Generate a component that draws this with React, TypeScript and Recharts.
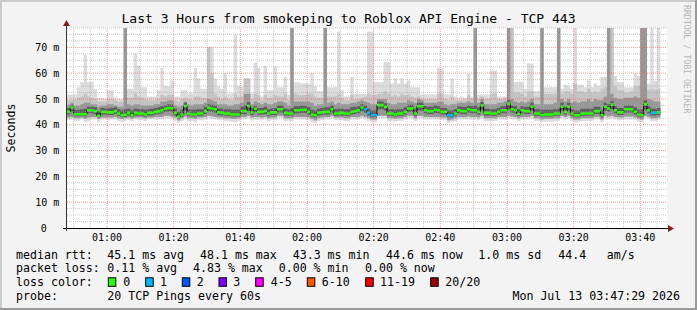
import React from 'react';
import { ComposedChart, Area, Line, XAxis, YAxis, ReferenceLine, CartesianGrid } from 'recharts';

// ---- data (1-minute bins starting 00:48) ----
const startMinute = 48;

const med = [
45.0,46.7,44.1,44.1,44.1,44.1,45.6,45.6,45.3,43.4,
45.0,45.0,44.8,44.8,45.3,44.4,43.7,43.9,44.6,43.7,
44.6,44.4,44.4,44.0,44.6,44.6,45.0,45.2,45.6,46.2,
46.5,46.4,44.6,43.1,44.0,47.3,44.4,44.0,44.0,44.4,
44.4,45.3,46.6,46.3,46.0,44.8,44.6,44.4,44.4,44.0,
44.0,44.0,45.3,45.3,47.3,44.8,46.2,45.0,45.0,45.3,
44.4,44.8,44.8,46.0,46.0,44.6,44.4,44.4,45.6,45.6,
45.8,45.8,45.0,44.0,43.7,44.6,44.8,45.0,45.0,46.0,
44.4,44.4,44.6,44.4,44.4,45.0,45.3,45.6,46.7,46.0,
44.6,43.7,43.7,47.6,47.6,46.9,44.4,44.4,44.0,44.4,
44.4,45.0,46.3,46.3,44.4,47.2,47.2,45.6,45.3,45.3,
45.8,45.6,45.0,45.0,43.7,43.7,44.4,45.6,45.3,45.3,
46.0,45.6,45.6,45.0,47.5,44.6,44.6,44.4,44.4,45.0,
45.6,45.6,48.2,46.0,45.6,44.2,45.6,45.3,45.3,47.0,
44.4,44.4,43.7,44.0,44.0,44.0,44.4,44.4,47.0,45.0,
47.0,44.4,43.7,43.7,44.4,44.4,44.4,44.4,45.3,45.3,
43.7,47.0,46.3,47.8,45.6,44.8,44.8,46.0,46.0,46.0,
45.0,44.0,43.7,48.0,45.6,44.6,44.6,44.8];

const hi = [
51.7,51.7,51.7,54.5,56.6,67.0,56.6,56.6,54.0,50.5,
50.5,50.0,53.4,53.4,50.5,50.0,50.0,77.5,54.0,54.0,
67.6,63.0,54.5,54.5,51.0,51.0,51.0,53.5,62.0,55.0,
55.0,57.2,51.0,51.0,53.4,53.4,52.1,52.1,62.0,58.0,
54.0,54.0,70.0,70.0,57.9,55.0,54.0,60.0,52.1,52.1,
75.0,55.0,55.0,58.0,58.0,52.1,64.0,62.0,51.0,63.0,
53.4,53.4,62.5,54.5,54.5,58.5,51.7,77.5,56.5,56.5,
56.0,56.0,56.0,60.0,55.0,53.0,53.0,77.5,54.5,54.5,
54.5,76.0,53.5,51.0,51.0,58.6,52.0,52.0,52.0,52.0,
76.0,76.0,56.6,56.6,56.6,64.3,64.3,56.0,58.0,56.0,
58.0,56.0,57.2,54.5,54.5,54.5,51.7,51.7,51.7,51.7,
51.7,61.9,61.9,52.1,51.7,58.0,51.0,50.5,51.0,50.5,
59.8,51.0,77.5,51.7,51.7,51.7,51.7,61.0,61.0,51.0,
51.0,51.0,77.5,77.5,56.6,56.6,56.6,54.0,63.7,63.7,
53.0,53.0,77.5,54.5,54.5,54.5,54.5,77.5,54.0,55.5,
55.0,54.0,77.5,55.5,55.5,54.5,57.2,54.5,56.0,55.0,
58.6,58.6,77.5,77.5,59.0,56.6,56.6,54.5,54.5,54.5,
60.0,59.0,77.5,77.5,56.0,77.5,57.0,77.5];

const h2 = [
49.5,49.5,49.8,50.5,51.0,52.0,51.0,50.5,50.0,49.0,
49.0,49.0,50.0,50.0,49.5,49.0,49.0,60.0,50.5,50.5,
52.0,51.0,50.5,50.0,49.5,49.5,49.5,50.0,51.5,51.0,
51.5,51.5,49.5,49.0,50.0,50.5,50.0,49.5,51.0,51.0,
50.5,50.5,70.0,60.0,52.0,51.0,50.0,51.0,50.0,49.5,
52.0,51.0,51.0,57.9,57.9,50.0,52.0,51.5,49.5,51.5,
50.5,50.5,51.5,51.0,51.0,52.0,49.5,77.5,52.0,51.5,
51.5,51.5,52.0,52.0,51.0,50.5,50.5,77.5,51.0,51.0,
51.0,52.0,50.5,49.5,49.5,51.5,50.0,50.0,50.5,51.0,
52.0,51.5,51.5,52.0,52.0,53.0,52.0,51.0,51.5,51.0,
52.0,51.5,52.0,51.0,50.5,51.0,50.0,50.0,50.0,50.0,
50.0,52.0,52.0,50.0,49.5,51.0,49.5,49.5,49.5,49.5,
51.5,50.0,77.5,50.0,51.0,50.0,50.0,52.0,52.0,50.0,
50.0,50.5,77.5,77.5,52.5,52.5,52.0,51.0,53.0,53.0,
51.0,51.0,77.5,52.0,52.0,52.0,52.0,77.5,52.0,53.0,
53.0,52.0,56.0,53.0,53.0,52.5,54.0,52.5,53.0,52.5,
54.0,54.5,77.5,77.5,55.0,53.5,53.5,52.5,52.5,53.0,
55.0,55.0,77.5,77.5,53.5,54.0,53.5,54.0];

const h3 = [
47.8,48.5,47.5,47.5,48.0,48.5,48.5,48.0,48.0,47.0,
47.5,47.5,48.0,48.0,47.5,47.0,47.0,77.5,48.0,47.5,
48.0,48.0,47.5,47.5,47.5,47.5,48.0,48.0,49.0,49.0,
49.5,49.5,47.5,47.0,47.5,49.0,48.0,47.5,48.0,48.0,
48.0,48.5,50.0,49.5,49.0,48.0,48.0,48.0,47.5,47.5,
48.0,48.0,48.5,52.0,52.0,48.0,49.0,48.5,48.0,48.5,
48.0,48.0,48.5,49.0,49.0,48.5,47.5,77.5,49.0,49.0,
49.0,49.0,49.0,48.5,47.5,48.0,48.0,77.5,48.5,49.0,
48.0,48.5,48.0,48.0,48.0,48.5,48.5,49.0,49.5,49.0,
48.5,48.0,48.0,50.0,50.0,50.0,48.5,48.0,48.0,48.5,
48.5,48.5,49.5,49.0,48.5,50.0,49.5,48.5,48.5,48.5,
48.5,49.0,49.0,48.0,47.5,48.0,48.0,48.5,48.5,48.5,
49.0,48.5,77.5,48.5,50.0,48.0,48.0,48.0,48.0,48.5,
48.5,49.0,77.5,50.0,49.0,48.5,49.0,48.5,49.0,50.0,
48.0,48.0,77.5,48.0,48.0,48.0,48.5,77.5,50.0,49.0,
50.0,48.5,49.0,48.5,49.0,49.0,50.0,49.0,50.0,49.5,
49.5,51.0,77.5,52.0,50.5,50.0,50.0,50.5,50.5,50.5,
51.0,50.5,77.5,77.5,50.0,49.5,49.0,49.0];

const h4 = [
46.5,47.8,45.8,45.8,46.0,46.2,47.0,47.0,46.8,45.2,
46.5,46.3,46.3,46.5,46.8,46.0,45.5,46.0,46.2,45.5,
46.2,46.0,46.0,45.8,46.0,46.2,46.5,46.8,47.2,47.5,
48.0,47.8,46.2,45.0,45.8,48.5,46.0,45.8,45.8,46.0,
46.0,47.0,48.0,47.8,47.5,46.3,46.2,46.0,46.0,45.8,
45.8,45.8,47.0,47.5,48.8,46.5,47.5,46.5,46.5,47.0,
46.0,46.3,46.5,47.5,47.5,46.2,46.0,46.5,47.2,47.2,
47.5,47.3,46.8,45.8,45.5,46.2,46.5,46.8,46.8,47.5,
46.0,46.2,46.2,46.0,46.0,46.8,47.0,47.2,48.0,47.5,
46.3,45.5,45.5,49.0,49.0,48.3,46.0,46.0,45.8,46.0,
46.0,46.8,47.8,47.8,46.0,48.5,48.5,47.2,47.0,47.0,
47.5,47.2,46.5,46.5,45.5,45.5,46.0,47.2,47.0,47.0,
47.5,47.2,47.5,46.8,48.8,46.2,46.2,46.0,46.0,46.5,
47.2,47.2,49.5,47.5,47.2,46.0,47.2,47.0,47.0,48.5,
46.0,46.0,45.8,45.8,45.8,45.8,46.0,46.2,48.5,46.8,
48.5,46.0,45.5,45.5,46.2,46.2,46.2,46.2,47.0,47.0,
45.5,48.5,48.0,49.2,47.2,46.5,46.5,47.5,47.5,47.5,
46.8,45.8,46.0,49.5,47.2,46.2,46.2,46.5];

const lo = [
42.0,42.0,41.5,41.5,42.0,41.0,41.5,42.0,42.0,41.0,
42.0,42.0,41.8,42.0,42.0,41.5,41.0,41.5,41.8,41.5,
42.0,41.8,41.8,41.5,42.0,42.0,42.0,42.0,42.0,42.5,
42.5,42.0,41.5,40.8,41.5,42.0,41.5,41.5,41.0,41.8,
41.8,42.0,42.5,42.2,42.0,41.8,41.8,41.5,41.5,41.2,
41.0,41.5,42.0,42.0,42.5,41.8,42.0,42.0,41.8,42.0,
41.5,41.8,41.8,42.5,42.5,41.5,41.5,41.5,42.0,42.0,
42.0,42.0,41.8,41.0,40.5,41.5,41.8,42.0,42.0,42.5,
41.8,41.8,41.8,41.5,41.5,42.0,42.0,42.0,42.5,42.0,
41.5,41.0,41.0,42.5,42.5,42.5,41.5,41.5,41.2,41.5,
41.5,42.0,42.5,42.5,41.5,42.5,42.5,42.0,42.0,42.0,
42.0,42.0,41.8,41.8,40.8,41.0,41.5,42.0,42.0,42.0,
42.0,42.0,42.0,41.8,42.5,41.5,41.5,41.5,41.5,42.0,
42.0,42.0,42.5,42.0,42.0,41.5,42.0,42.0,42.0,42.5,
41.5,41.5,41.0,41.2,41.2,41.2,41.5,41.5,42.5,42.0,
42.5,41.5,41.0,41.0,41.5,41.5,41.5,41.5,42.0,42.0,
41.0,42.5,42.0,42.5,42.0,41.8,41.8,42.0,42.0,42.0,
41.8,41.2,41.0,42.5,42.0,41.5,41.5,41.8];

const lm = [
42.8,43.0,42.5,42.5,42.8,42.3,42.8,43.0,43.0,42.2,
42.8,42.8,42.8,42.8,43.0,42.5,42.2,42.5,42.8,42.4,
42.8,42.8,42.8,42.5,42.8,42.8,43.0,43.0,43.0,43.5,
43.5,43.2,42.8,41.8,42.5,43.2,42.5,42.5,42.3,42.8,
42.8,43.0,43.5,43.3,43.0,42.8,42.8,42.5,42.5,42.3,
42.2,42.5,43.0,43.0,43.5,42.8,43.0,43.0,42.8,43.0,
42.5,42.8,42.8,43.5,43.5,42.5,42.5,42.5,43.0,43.0,
43.0,43.0,42.8,42.2,41.8,42.5,42.8,43.0,43.0,43.5,
42.8,42.8,42.8,42.5,42.5,43.0,43.0,43.0,43.5,43.0,
42.5,42.0,42.0,43.5,43.5,43.5,42.5,42.5,42.3,42.5,
42.5,43.0,43.5,43.5,42.5,43.5,43.5,43.0,43.0,43.0,
43.0,43.0,42.8,42.8,41.8,42.0,42.5,43.0,43.0,43.0,
43.2,43.0,43.0,42.8,43.5,42.5,42.5,42.5,42.5,43.0,
43.0,43.0,43.5,43.2,43.0,42.5,43.0,43.0,43.0,43.5,
42.5,42.5,42.0,42.3,42.3,42.3,42.5,42.5,43.5,43.0,
43.5,42.5,42.0,42.0,42.5,42.5,42.5,42.5,43.0,43.0,
42.0,43.5,43.2,43.5,43.0,42.8,42.8,43.2,43.2,43.2,
42.8,42.3,42.0,43.5,43.0,42.5,42.5,42.8];

const ld = [
44.0,45.0,43.3,43.3,43.3,43.2,44.5,44.5,44.2,42.8,
44.0,44.0,43.8,43.8,44.3,43.5,43.0,43.0,43.6,43.0,
43.6,43.5,43.5,43.2,43.6,43.6,44.0,44.2,44.5,45.0,
45.2,45.0,43.6,42.4,43.2,45.5,43.5,43.2,43.2,43.5,
43.5,44.2,45.2,45.0,44.8,43.8,43.6,43.5,43.5,43.2,
43.2,43.2,44.2,44.2,45.5,43.8,45.0,44.0,44.0,44.2,
43.5,43.8,43.8,44.8,44.8,43.6,43.5,43.5,44.5,44.5,
44.6,44.6,44.0,43.2,42.8,43.6,43.8,44.0,44.0,44.8,
43.5,43.5,43.6,43.5,43.5,44.0,44.2,44.5,45.2,44.8,
43.6,42.9,42.9,46.0,46.0,45.5,43.5,43.5,43.2,43.5,
43.5,44.0,45.0,45.0,43.5,45.5,45.5,44.5,44.2,44.2,
44.6,44.5,44.0,44.0,42.9,42.9,43.5,44.5,44.2,44.2,
44.8,44.5,44.5,44.0,45.8,43.6,43.6,43.5,43.5,44.0,
44.5,44.5,46.0,44.8,44.5,43.4,44.5,44.2,44.2,45.5,
43.5,43.5,42.9,43.2,43.2,43.2,43.5,43.5,45.5,44.0,
45.5,43.5,42.9,42.9,43.5,43.5,43.5,43.5,44.2,44.2,
42.9,45.5,45.0,46.0,44.5,43.8,43.8,44.8,44.8,44.8,
44.0,43.2,42.9,46.0,44.5,43.6,43.6,43.8];

// bins with lost pings, and how many were lost
const lossBins = [89, 90, 91, 92, 114, 115, 175, 176];
const lossCounts = [1, 1, 1, 1, 1, 1, 1, 1];

const lossLabels = ['0', '1', '2', '3', '4-5', '6-10', '11-19', '20/20'];
const lossColors = ['#26ff00', '#00b8ff', '#0059ff', '#7e00ff', '#ff00ff', '#ff5500', '#ff0000', '#a10000'];
const lossUpper = [0, 1, 2, 3, 5, 10, 19, 20];

const xTicks = [60, 80, 100, 120, 140, 160, 180, 200, 220];
const xTickLabels = ['01:00', '01:20', '01:40', '02:00', '02:20', '02:40', '03:00', '03:20', '03:40'];
const yTicks = [0, 10, 20, 30, 40, 50, 60, 70];
const yTickLabels = ['0', '10 m', '20 m', '30 m', '40 m', '50 m', '60 m', '70 m'];
const xDomain = [48, 228];
const yDomain = [0, 77.5];

// ---- layout ----
const W = 697;
const H = 310;
const PL = 67, PR = 667, PT = 28, PB = 228;
const FONT = "'DejaVu Sans Mono', monospace";

const bucketOf = (n: number) => lossUpper.findIndex((u) => n <= u);

const data: any[] = [];
med.forEach((m, i) => {
  const li = lossBins.indexOf(i);
  const loss = li >= 0 ? lossCounts[li] : 0;
  const row = {
    med: m,
    s1: [lo[i], hi[i]],
    s2: [lm[i], h2[i]],
    s3: [lm[i], h3[i]],
    s4: [ld[i], h4[i]],
    band: [m - 0.5, m + 0.5],
    ci: bucketOf(loss),
  };
  data.push({ t: startMinute + i, ...row }, { t: startMinute + i + 1, ...row });
});

const minorY: number[] = [];
for (let v = 2.5; v <= yDomain[1]; v += 2.5) if (v % 10 !== 0) minorY.push(v);
const majorY = yTicks.filter((v) => v > 0);
const minorX: number[] = [];
for (let t = 50; t < xDomain[1]; t += 5) if (t % 20 !== 0) minorX.push(t);

const XTick = (p: any) => {
  const idx = xTicks.indexOf(p.payload.value);
  return (
    <text x={p.x} y={p.y + 13.4} textAnchor="middle" fontFamily={FONT} fontSize={10} fill="#000">
      {xTickLabels[idx]}
    </text>
  );
};
const YTick = (p: any) => {
  const idx = yTicks.indexOf(p.payload.value);
  const shift = p.payload.value === 0 ? 12.6 : 0;
  return (
    <text x={p.x - 7.7 - shift} y={p.y + 3.6} textAnchor="end" fontFamily={FONT} fontSize={10} fill="#000">
      {yTickLabels[idx]}
    </text>
  );
};

const txt = (x: number, y: number, s: string, extra: any = {}) => (
  <text x={x} y={y} fontFamily={FONT} fontSize={11.6} fill="#000" {...extra}>{s}</text>
);

const legendBoxX = [108.3, 145.7, 182.3, 219, 255.7, 307.3, 365.7, 430.7];
const legendLabelX = [123.3, 160, 196.7, 233.3, 270.7, 321.7, 380, 445.3];

export default function App() {
  const presentBuckets = lossColors.map((_, k) => data.some((d) => d.ci === k));
  return (
    <div style={{ position: 'relative', width: W, height: H, overflow: 'hidden' }}>
      <style>{`body{margin:0;}`}</style>
      <svg width={W} height={H} style={{ position: 'absolute', left: 0, top: 0 }}>
        <rect x={0} y={0} width={W} height={H} fill="#f3f3f3" />
        <rect x={0} y={0} width={W} height={2} fill="#cbcbcb" />
        <rect x={0} y={0} width={2} height={H} fill="#cbcbcb" />
        <rect x={0} y={H - 2} width={W} height={2} fill="#9a9a9a" />
        <rect x={W - 2} y={0} width={2} height={H} fill="#9a9a9a" />
      </svg>
      <div style={{ position: 'absolute', left: 0, top: 0 }}>
        <ComposedChart width={W} height={H} data={data}
          margin={{ top: PT, right: W - PR, bottom: H - PB - 30, left: PL - 60 }}>
          <CartesianGrid fill="#ffffff" horizontal={false} vertical={false} stroke="none" />
          <XAxis dataKey="t" type="number" domain={xDomain} ticks={xTicks} interval={0}
            axisLine={false} tickLine={false} tickSize={0} tickMargin={0} height={30} tick={<XTick />} allowDataOverflow />
          <YAxis type="number" domain={yDomain} ticks={yTicks} interval={0}
            axisLine={false} tickLine={false} tickSize={0} tickMargin={0} width={60} tick={<YTick />} allowDataOverflow />
          <Area dataKey="s1" type="linear" stroke="none" fill="#dcdcdc" fillOpacity={1} isAnimationActive={false} zIndex={100} />
          <Area dataKey="s2" type="linear" stroke="none" fill="#c4c4c4" fillOpacity={1} isAnimationActive={false} zIndex={101} />
          <Area dataKey="s3" type="linear" stroke="none" fill="#979797" fillOpacity={1} isAnimationActive={false} zIndex={102} />
          <Area dataKey="s4" type="linear" stroke="none" fill="#5e5e5e" fillOpacity={1} isAnimationActive={false} zIndex={103} />
          <Line dataKey="med" type="linear" stroke="#000000" strokeWidth={1} dot={false} activeDot={false}
            isAnimationActive={false} zIndex={110} />
          {lossColors.map((c, k) => presentBuckets[k] ? (
            <Area key={'loss' + k} dataKey={(d: any) => (d.ci === k ? d.band : null)} type="linear"
              stroke="none" fill={c} fillOpacity={1} isAnimationActive={false} connectNulls={false} zIndex={120} />
          ) : null)}
          {minorY.map((v) => (
            <ReferenceLine key={'my' + v} y={v} stroke="#a8a8a8" strokeOpacity={0.6} strokeDasharray="1 1" zIndex={130} />
          ))}
          {minorX.map((v) => (
            <ReferenceLine key={'mx' + v} x={v} stroke="#a8a8a8" strokeOpacity={0.6} strokeDasharray="1 1" zIndex={130} />
          ))}
          {majorY.map((v) => (
            <ReferenceLine key={'My' + v} y={v} stroke="#ff5050" strokeOpacity={0.6} strokeDasharray="1 1" zIndex={131} />
          ))}
          {xTicks.map((v) => (
            <ReferenceLine key={'Mx' + v} x={v} stroke="#ff5050" strokeOpacity={0.6} strokeDasharray="1 1" zIndex={131} />
          ))}
        </ComposedChart>
      </div>
      <svg width={W} height={H} style={{ position: 'absolute', left: 0, top: 0, pointerEvents: 'none' }}>
        {/* axes */}
        <line x1={PL - 4} y1={PB + 0.5} x2={PR + 2} y2={PB + 0.5} stroke="#000" strokeWidth={1} />
        <line x1={PL - 0.5} y1={PB + 3} x2={PL - 0.5} y2={PT - 4} stroke="#333" strokeWidth={1} />
        <polygon points={`${PL - 4},${PT - 2} ${PL + 3},${PT - 2} ${PL - 0.5},${PT - 8}`} fill="#8b1a1a" />
        <polygon points={`${PR + 1},${PB - 3} ${PR + 1},${PB + 4} ${PR + 7},${PB + 0.5}`} fill="#8b1a1a" />
        {/* title */}
        <text x={348.5} y={23} textAnchor="middle" fontFamily={FONT} fontSize={13} fill="#000">
          Last 3 Hours from smokeping to Roblox API Engine - TCP 443
        </text>
        <text transform="translate(15,128) rotate(-90)" textAnchor="middle" fontFamily={FONT} fontSize={11.6} fill="#000">Seconds</text>
        <text transform="translate(684,5) rotate(90)" fontFamily={FONT} fontSize={8.2} fill="#b5b5b5">RRDTOOL / TOBI OETIKER</text>
        {/* legend row 1 */}
        {txt(16, 258.5, 'median rtt:')}
        {txt(107.3, 258.5, '45.1 ms avg')}
        {txt(200, 258.5, '48.1 ms max')}
        {txt(292.7, 258.5, '43.3 ms min')}
        {txt(386, 258.5, '44.6 ms now')}
        {txt(478.3, 258.5, '1.0 ms sd')}
        {txt(558.3, 258.5, '44.4')}
        {txt(606.7, 258.5, 'am/s')}
        {/* legend row 2 */}
        {txt(16, 272.3, 'packet loss:')}
        {txt(107.3, 272.3, '0.11 % avg')}
        {txt(193, 272.3, '4.83 % max')}
        {txt(278.7, 272.3, '0.00 % min')}
        {txt(365, 272.3, '0.00 % now')}
        {/* legend row 3 */}
        {txt(16, 286.1, 'loss color:')}
        {lossLabels.map((l, k) => (
          <g key={'lg' + k}>
            <rect x={legendBoxX[k]} y={277.8} width={7.5} height={8.5} fill={lossColors[k]} stroke="#000" strokeWidth={1} />
            {txt(legendLabelX[k], 286.1, l)}
          </g>
        ))}
        {/* legend row 4 */}
        {txt(16, 300, 'probe:')}
        {txt(107.3, 300, '20 TCP Pings every 60s')}
        {txt(680, 300, 'Mon Jul 13 03:47:29 2026', { textAnchor: 'end' })}
      </svg>
    </div>
  );
}
